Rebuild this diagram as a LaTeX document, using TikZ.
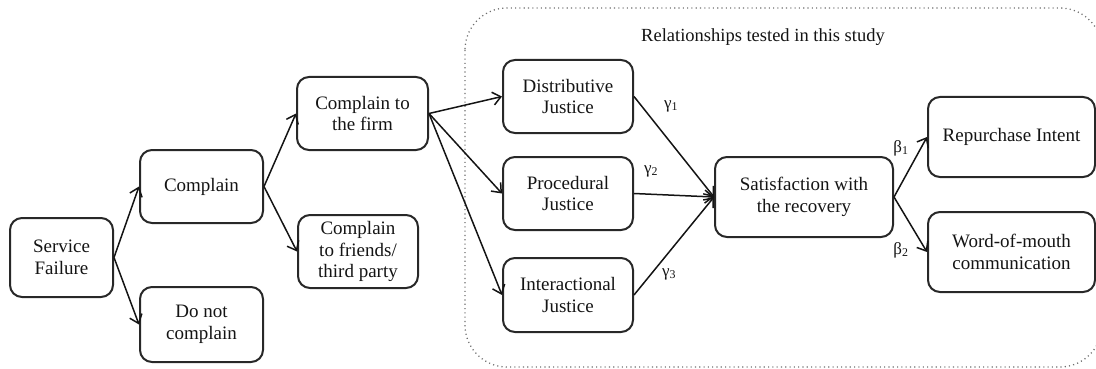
\documentclass[tikz,border=0pt]{standalone}
\usepackage{fontspec}
\setmainfont{Liberation Serif}
\usetikzlibrary{arrows.meta}
\definecolor{ink}{RGB}{20,20,20}
\definecolor{frame}{RGB}{40,40,40}
\definecolor{dots}{RGB}{110,110,110}
\begin{document}
\begin{tikzpicture}[x=1pt,y=-1pt,
  box/.style={draw=frame, line width=2pt, rounded corners=12pt, align=center,
    text=ink, font=\fontsize{19}{21.7}\selectfont, inner sep=0pt},
  link/.style={draw=ink, line width=1.5pt, -{Straight Barb[length=8pt,width=13pt,line width=1.5pt]}},
  coef/.style={text=ink, font=\fontsize{17}{19}\selectfont, inner sep=0pt},
  region/.style={draw=dots, line width=1.3pt, dash pattern=on 1.1pt off 3.2pt, rounded corners=42pt}
]
\useasboundingbox (0,0) rectangle (1096,369);

% area of the tested relationships
\draw[region] (465,8) rectangle (1102,367);
\node[text=ink, font=\fontsize{18.5}{21}\selectfont] (title) at (763,37) {Relationships tested in this study};

% complaint branches
\node[box, minimum width=103pt, minimum height=79pt] (fail) at (61.5,257.5) {Service\\Failure};
\node[box, minimum width=123pt, minimum height=73pt] (comp) at (201.5,186.5) {Complain};
\node[box, minimum width=123pt, minimum height=75pt] (nocomp) at (201.5,324.5) {Do not\\complain};
\node[box, minimum width=131pt, minimum height=73pt] (firm) at (362.5,113.5) {Complain to\\the firm};
\node[box, minimum width=120pt, minimum height=73pt] (friends) at (358,251.5) {Complain\\to friends/\\third party};

% justice dimensions
\node[box, minimum width=130pt, minimum height=73pt] (dist) at (568,96.5) {Distributive\\Justice};
\node[box, minimum width=130pt, minimum height=73pt] (proc) at (568,193.5) {Procedural\\Justice};
\node[box, minimum width=130pt, minimum height=74pt] (inter) at (568,295) {Interactional\\Justice};

% outcomes
\node[box, minimum width=178pt, minimum height=80pt] (sat) at (804,197) {Satisfaction with\\the recovery};
\node[box, minimum width=167pt, minimum height=80pt] (rep) at (1011.5,137) {Repurchase Intent};
\node[box, minimum width=167pt, minimum height=80pt] (wom) at (1011.5,252) {Word-of-mouth\\communication};

% connectors
\draw[link] (fail.east) -- (comp.west);
\draw[link] (fail.east) -- (nocomp.west);
\draw[link] (comp.east) -- (firm.west);
\draw[link] (comp.east) -- (friends.west);
\draw[link] (firm.east) -- (dist.west);
\draw[link] (firm.east) -- (proc.west);
\draw[link] (firm.east) -- (inter.west);
\draw[link] (dist.east) -- (sat.west);
\draw[link] (proc.east) -- (sat.west);
\draw[link] (inter.east) -- (sat.west);
\draw[link] (sat.east) -- (rep.west);
\draw[link] (sat.east) -- (wom.west);

% path coefficients
\node[coef] (g1) at (671,106) {γ\textsubscript{1}};
\node[coef] (g2) at (651,171) {γ\textsubscript{2}};
\node[coef] (g3) at (669,274) {γ\textsubscript{3}};
\node[coef] (b1) at (901,148) {β\textsubscript{1}};
\node[coef] (b2) at (901,250) {β\textsubscript{2}};
\end{tikzpicture}
\end{document}
